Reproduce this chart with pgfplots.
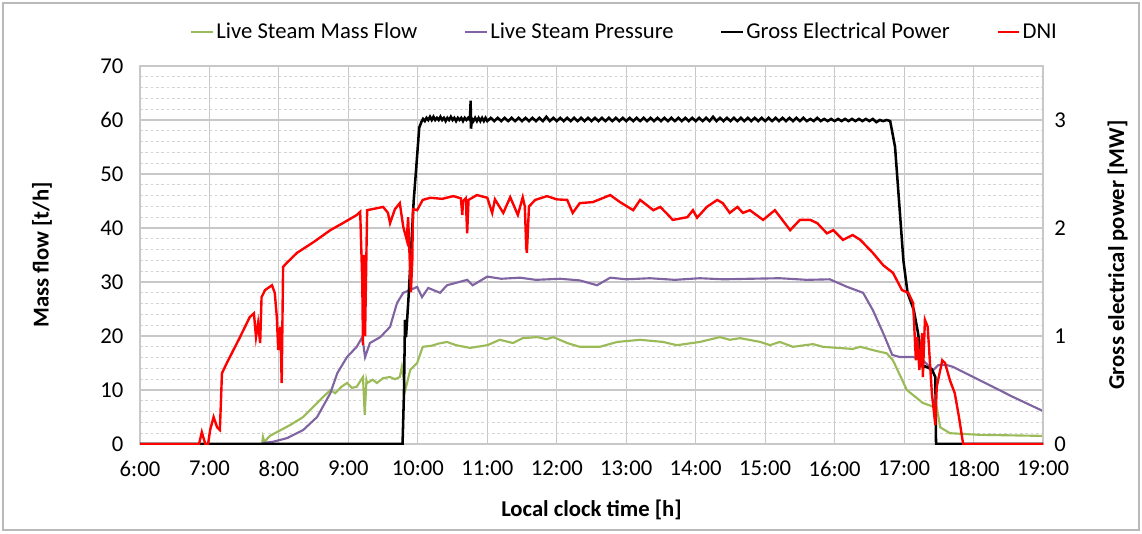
\documentclass[border=0pt]{standalone}
\usepackage{fontspec}
\setmainfont{Carlito}
\usepackage{pgfplots}
\pgfplotsset{compat=1.18}
\definecolor{cgreen}{HTML}{9BBB59}
\definecolor{cpurple}{HTML}{8064A2}
\definecolor{cred}{HTML}{FF0000}
\definecolor{cgrid}{HTML}{C8C8C8}
\newcommand{\fs}{\fontsize{17}{20}\selectfont}
\pgfplotsset{
  common/.style={
    width=677.25pt, height=283.5pt, scale only axis,
    xmin=6, xmax=19,
    at={(0,0)}, anchor=south west,
    /pgf/number format/assume math mode=true,
    tick label style={font=\fs},
    label style={font=\fs\bfseries},
    major tick length=0pt, minor tick length=0pt,
  }
}
\begin{document}
\begin{tikzpicture}
\useasboundingbox (-105pt,-66.75pt) rectangle (751.5pt,333pt);
\draw[gray!55, line width=0.8pt] (-102.75pt,-64.5pt) rectangle (749.25pt,330.75pt);
\begin{axis}[common,
  ymin=0, ymax=70, ytick={0,10,...,70},
  xtick={6,...,19},
  xticklabels={6:00,7:00,8:00,9:00,10:00,11:00,12:00,13:00,14:00,15:00,16:00,17:00,18:00,19:00},
  minor y tick num=4,
  grid=both,
  major grid style={cgrid, line width=0.8pt},
  minor grid style={cgrid!80, line width=0.6pt, dash pattern=on 2pt off 2pt},
  axis line style={cgrid, line width=0.8pt},
  yticklabel style={xshift=-9pt},
  xticklabel style={yshift=-9pt},
  xlabel={Local clock time [h]},
  ylabel={Mass flow [t/h]},
  xlabel style={at={(axis description cs:0.5,-0.1746)}, anchor=center},
  ylabel style={at={(axis description cs:-0.1085,0.5)}, anchor=center},
  legend style={at={(0.537,1.09)}, anchor=center, draw=none, fill=none,
    font=\fs, legend columns=4,
    /tikz/every even column/.append style={column sep=33pt}},
  legend image code/.code={\draw[#1] (0pt,0pt) -- (16pt,0pt);},
]
% Live Steam Mass Flow
\addplot[cgreen, line width=1.6pt] coordinates {
(7.76,0.2) (7.77,1.3) (7.79,0.4) (7.87,1.5) (7.97,2.2) (8.16,3.5) (8.35,5) (8.55,7.6)
(8.74,10) (8.81,9.4) (8.9,10.6) (8.98,11.3) (9.05,10.4) (9.12,10.6) (9.21,12.4) (9.235,5.4) (9.26,11.8) (9.27,11.3)
(9.35,11.9) (9.41,11.3) (9.5,12.2) (9.6,12.4) (9.67,12.0) (9.74,12.4) (9.77,14.3) (9.82,10) (9.89,13.7) (9.99,15)
(10.07,18) (10.2,18.2) (10.3,18.6) (10.42,18.9) (10.55,18.3) (10.75,17.8) (11.0,18.3) (11.18,19.3)
(11.37,18.7) (11.51,19.6) (11.72,19.8) (11.85,19.4) (11.95,19.8) (12.15,18.7) (12.33,18)
(12.62,18) (12.87,18.9) (13.2,19.3) (13.53,18.9) (13.73,18.3) (14.06,18.9) (14.35,19.8)
(14.49,19.3) (14.64,19.6) (14.93,18.9) (15.07,18.3) (15.21,18.9) (15.4,18) (15.69,18.5)
(15.83,18) (16.26,17.6) (16.37,18) (16.61,17.2) (16.75,16.8) (16.84,15.5) (17.04,10)
(17.27,7.6) (17.4,7) (17.47,6.9) (17.52,3.1) (17.66,2) (18.09,1.7) (19.0,1.5)
};
\addlegendentry{Live Steam Mass Flow}
% Live Steam Pressure
\addplot[cpurple, line width=1.6pt] coordinates {
(7.77,0.2) (7.91,0.4) (8.12,1.1) (8.35,2.6) (8.55,5) (8.74,9.4) (8.84,13.1) (8.98,16.1)
(9.12,18) (9.2,19.8) (9.24,16.1) (9.31,18.7) (9.46,19.8) (9.6,21.7) (9.7,26.1) (9.79,28)
(9.89,28.5) (9.99,29.1) (10.06,27.2) (10.15,28.9) (10.32,28) (10.42,29.4) (10.71,30.4)
(10.79,29.4) (11.0,31) (11.2,30.6) (11.47,30.8) (11.7,30.4) (12.05,30.6) (12.33,30.3)
(12.58,29.4) (12.77,30.8) (13.0,30.5) (13.34,30.7) (13.7,30.4) (14.06,30.7) (14.4,30.5)
(14.78,30.6) (15.21,30.7) (15.6,30.4) (15.93,30.5) (16.18,29.1) (16.41,28) (16.55,24.8)
(16.7,20.5) (16.83,16.5) (16.94,16.1) (17.13,16.1) (17.27,15.5) (17.42,13.7) (17.49,14.6)
(17.62,14.6) (17.7,14.3) (18.09,11.8) (18.57,8.7) (19.0,6.1)
};
\addlegendentry{Live Steam Pressure}
\addlegendimage{black, line width=1.6pt}
\addlegendentry{Gross Electrical Power}
\addlegendimage{cred, line width=1.6pt}
\addlegendentry{DNI}
\end{axis}
\begin{axis}[common,
  ymin=0, ymax=3.5, ytick={0,1,2,3},
  axis x line=none, axis y line*=right,
  axis line style={cgrid, line width=0.8pt},
  yticklabel style={xshift=5pt},
  ylabel={Gross electrical power [MW]},
  ylabel style={at={(axis description cs:1.0827,0.5)}, anchor=center},
]
\addplot[black, line width=1.9pt] coordinates {
(6,0) (9.78,0) (9.8,0.47) (9.815,1.15) (9.83,0.99) (9.87,1.4) (9.94,2.25) (9.97,2.5)
(10.02,2.93) (10.05,2.98) (10.075,3.01) (10.1,2.99) (10.125,3.02) (10.15,3.0) (10.175,3.03)
(10.2,3.0) (10.225,3.03) (10.25,3.0) (10.275,3.02) (10.3,3.0) (10.325,3.03) (10.35,3.0)
(10.375,3.02) (10.4,2.99) (10.425,3.02) (10.45,3.0) (10.475,3.03) (10.5,3.0) (10.525,3.02)
(10.55,2.99) (10.575,3.02) (10.6,3.0) (10.625,3.02) (10.65,2.99) (10.675,3.02) (10.7,3.0)
(10.725,3.02) (10.75,3.0) (10.76,3.18) (10.765,2.92) (10.78,3.01) (10.8,2.99) (10.825,3.02)
(10.85,2.99) (10.875,3.02) (10.9,2.99) (10.925,3.02) (10.95,2.99) (10.975,3.02)
(11.0,2.99) (11.05,3.02) (11.1,2.99) (11.15,3.02) (11.2,2.99) (11.25,3.02) (11.3,2.99)
(11.35,3.02) (11.4,2.99) (11.45,3.02) (11.5,2.99) (11.55,3.02) (11.6,2.99) (11.65,3.02)
(11.7,2.99) (11.75,3.02) (11.8,2.99) (11.85,3.03) (11.9,2.99) (11.95,3.02) (12.0,2.99)
(12.05,3.02) (12.1,2.99) (12.15,3.02) (12.2,2.99) (12.25,3.02) (12.3,2.99) (12.35,3.02)
(12.4,2.99) (12.45,3.02) (12.5,2.99) (12.55,3.02) (12.6,2.99) (12.65,3.02) (12.7,2.99)
(12.75,3.02) (12.8,2.99) (12.85,3.02) (12.9,2.99) (12.95,3.02) (13.0,2.99) (13.05,3.02)
(13.1,2.99) (13.15,3.02) (13.2,2.99) (13.25,3.02) (13.3,2.99) (13.35,3.02) (13.4,2.99)
(13.45,3.02) (13.5,2.99) (13.55,3.02) (13.6,2.99) (13.65,3.02) (13.7,2.99) (13.75,3.02)
(13.8,2.99) (13.85,3.02) (13.9,2.99) (13.95,3.02) (14.0,2.99) (14.05,3.02) (14.1,2.99)
(14.15,3.02) (14.2,2.99) (14.25,3.03) (14.3,2.99) (14.35,3.02) (14.4,2.99) (14.45,3.02)
(14.5,2.99) (14.55,3.02) (14.6,2.99) (14.65,3.02) (14.7,2.99) (14.75,3.02) (14.8,2.99)
(14.85,3.02) (14.9,2.99) (14.95,3.02) (15.0,2.99) (15.05,3.02) (15.1,2.99) (15.15,3.02)
(15.2,2.99) (15.25,3.02) (15.3,2.99) (15.35,3.02) (15.4,2.99) (15.45,3.02) (15.5,2.99)
(15.55,3.02) (15.6,2.99) (15.65,3.01) (15.7,2.99) (15.75,3.02) (15.8,2.99) (15.85,3.01)
(15.9,2.99) (15.95,3.01) (16.0,2.99) (16.05,3.01) (16.1,2.99) (16.15,3.01) (16.2,2.99)
(16.25,3.01) (16.3,2.99) (16.35,3.01) (16.4,2.99) (16.45,3.01) (16.5,2.99) (16.55,3.01)
(16.6,2.98) (16.65,3.0) (16.7,2.99) (16.75,3.0) (16.8,2.99) (16.87,2.75) (16.94,2.14)
(16.99,1.7) (17.05,1.4) (17.14,1.24) (17.2,1.03) (17.27,0.71) (17.3,0.72) (17.4,0.69)
(17.45,0.62) (17.46,0) (19,0)
};
\end{axis}
\begin{axis}[common, hide axis, ymin=0, ymax=70]
\addplot[cred, line width=1.8pt] coordinates {
(6,0) (6.85,0) (6.89,2.2) (6.94,0) (6.98,0) (7.01,2.6) (7.06,5) (7.11,3.1) (7.15,2.6)
(7.18,13.1) (7.25,15) (7.44,19.8) (7.58,23.5) (7.64,24.2) (7.67,19.8) (7.7,22.4) (7.73,18.7)
(7.75,27.2) (7.8,28.5) (7.9,29.4) (7.94,28) (7.97,23.5) (7.99,17.4) (8.02,21.7) (8.04,11.3)
(8.06,32.8) (8.11,33.5) (8.26,35.4) (8.5,37.4) (8.74,39.6) (8.92,40.9) (9.12,42.4) (9.17,43)
(9.2,30) (9.21,18.3) (9.22,35) (9.24,20) (9.27,43.3) (9.5,43.9) (9.57,42.8) (9.6,40.9)
(9.67,43.5) (9.74,44.6) (9.79,40.2) (9.84,37.8) (9.86,42) (9.89,31.7) (9.9,28.1) (9.92,34)
(9.93,43.5) (9.99,43.3) (10.07,45.2) (10.18,45.6) (10.35,45.4) (10.51,45.9) (10.62,45.5) (10.64,42.4)
(10.65,45) (10.69,45.5) (10.71,39) (10.73,45.2) (10.85,46.1) (11.0,45.6) (11.07,42.8)
(11.11,45.3) (11.23,42.8) (11.33,45.7) (11.44,42.4) (11.51,45.7) (11.54,44) (11.56,36.5)
(11.57,35.4) (11.6,44) (11.69,45.2) (11.86,45.9) (12.0,45.3) (12.15,45.2) (12.23,42.8) (12.33,44.6)
(12.52,44.8) (12.77,46.1) (12.91,44.8) (13.1,43.3) (13.2,45.2) (13.39,43.3) (13.49,43.9)
(13.59,42.6) (13.67,41.5) (13.88,42) (13.96,43.3) (14.02,41.9) (14.16,43.9) (14.31,45.2)
(14.39,44.6) (14.49,42.8) (14.6,43.9) (14.68,42.8) (14.78,43.3) (14.97,41.5) (15.14,43.3)
(15.36,39.6) (15.5,41.5) (15.65,41.5) (15.75,40.9) (15.89,39) (15.98,39.6) (16.12,37.8)
(16.26,38.7) (16.37,37.8) (16.55,35.4) (16.7,33.1) (16.84,31.7) (16.97,28.5) (17.06,28)
(17.13,26.1) (17.17,15.5) (17.19,19.8) (17.22,13.7) (17.26,20.5) (17.27,12.4) (17.3,23)
(17.34,21.7) (17.4,9.4) (17.45,3.5) (17.47,10.6) (17.55,15.5) (17.59,15) (17.66,11.8)
(17.73,9.4) (17.79,5) (17.85,0) (19,0)
};
\end{axis}
\end{tikzpicture}
\end{document}
